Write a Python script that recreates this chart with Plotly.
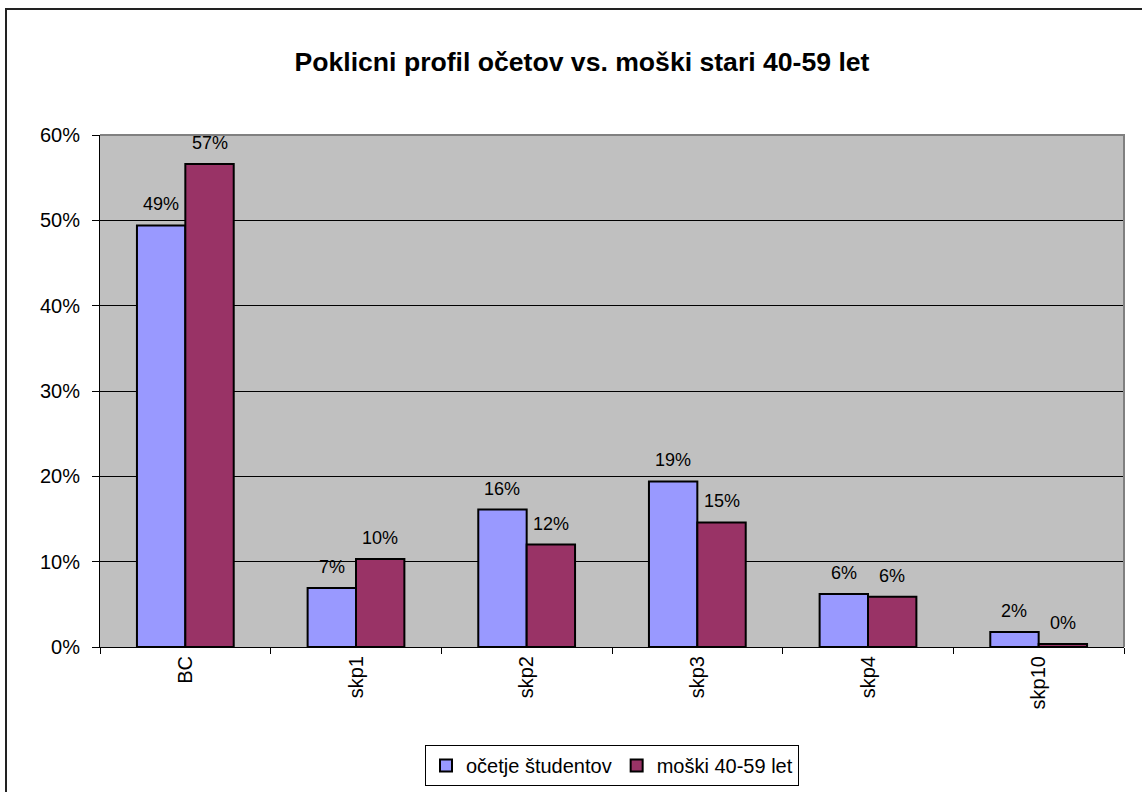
import plotly.graph_objects as go

categories = ["BC", "skp1", "skp2", "skp3", "skp4", "skp10"]
fathers = [0.494, 0.069, 0.161, 0.194, 0.062, 0.0175]
men = [0.566, 0.103, 0.120, 0.146, 0.059, 0.0035]
series_names = ["očetje študentov", "moški 40-59 let"]
title_text = "Poklicni profil očetov vs. moški stari 40-59 let"
ytick_vals = [0, 0.1, 0.2, 0.3, 0.4, 0.5, 0.6]

W, H = 1142, 792
ML, MR, MT, MB = 100, 18, 135, 145
PW = W - ML - MR
PH = H - MT - MB
FONT = "Liberation Sans, Arial, sans-serif"

fig = go.Figure()
for name, vals, col in [(series_names[0], fathers, "#9999FF"),
                        (series_names[1], men, "#993366")]:
    fig.add_trace(go.Bar(
        x=categories, y=vals, name=name,
        marker=dict(color=col, line=dict(color="black", width=2)),
        hoverinfo="x+y",
    ))

bargap = 0.433
cat_w = PW / len(categories)
bar_w = cat_w * (1 - bargap) / 2
annotations = []
for i, cat in enumerate(categories):
    for vals, sh in [(fathers, -bar_w / 2), (men, bar_w / 2)]:
        annotations.append(dict(
            x=cat, y=vals[i], xref="x", yref="y",
            text=f"{round(vals[i] * 100):.0f}%",
            showarrow=False, xshift=sh, yshift=9, yanchor="bottom",
            font=dict(family=FONT, size=18, color="black"),
        ))

def px_x(p):
    return (p - ML) / PW

def px_y(p):
    return (H - MB - p) / PH

shapes = [
    # outer chart border (only top/left visible)
    dict(type="rect", xref="paper", yref="paper",
         x0=px_x(6), y0=px_y(H + 50), x1=px_x(W + 50), y1=px_y(9),
         line=dict(color="#222222", width=2), fillcolor="rgba(0,0,0,0)", layer="below"),
    # plot area top/right border in gray
    dict(type="path", xref="paper", yref="paper",
         path="M 0,1 L 1,1 L 1,0", line=dict(color="#808080", width=2), layer="above"),
]

fig.update_layout(
    width=W, height=H,
    margin=dict(l=ML, r=MR, t=MT, b=MB, autoexpand=False),
    paper_bgcolor="white", plot_bgcolor="#C0C0C0",
    font=dict(family=FONT, size=20, color="black"),
    bargap=bargap, bargroupgap=0,
    title=dict(text=f"<b>{title_text}</b>", x=px_x(582), xref="paper", xanchor="center",
               y=1 - 62 / H, yref="container", yanchor="middle",
               font=dict(family=FONT, size=26.6, color="black")),
    xaxis=dict(showline=True, linecolor="black", linewidth=1,
               ticks="outside", tickson="boundaries", ticklen=6, tickcolor="black",
               tickangle=-90, showgrid=False, tickfont=dict(size=20)),
    yaxis=dict(range=[0, 0.6], tickvals=ytick_vals, tickformat=".0%",
               showline=True, linecolor="black", linewidth=1,
               ticks="outside", ticklen=7, tickcolor="black",
               showgrid=True, gridcolor="black", gridwidth=1,
               zeroline=False, ticklabelstandoff=8, tickfont=dict(size=20)),
    legend=dict(orientation="h", x=0.5, xanchor="center", xref="paper",
                y=px_y(745), yanchor="top", yref="paper",
                bordercolor="black", borderwidth=1, bgcolor="white",
                font=dict(size=20), itemwidth=30, tracegroupgap=0),
    annotations=annotations,
    shapes=shapes,
    showlegend=True,
)

fig.write_html("out.html", config={"displayModeBar": False},
               post_script="document.body.style.margin='0px';")
